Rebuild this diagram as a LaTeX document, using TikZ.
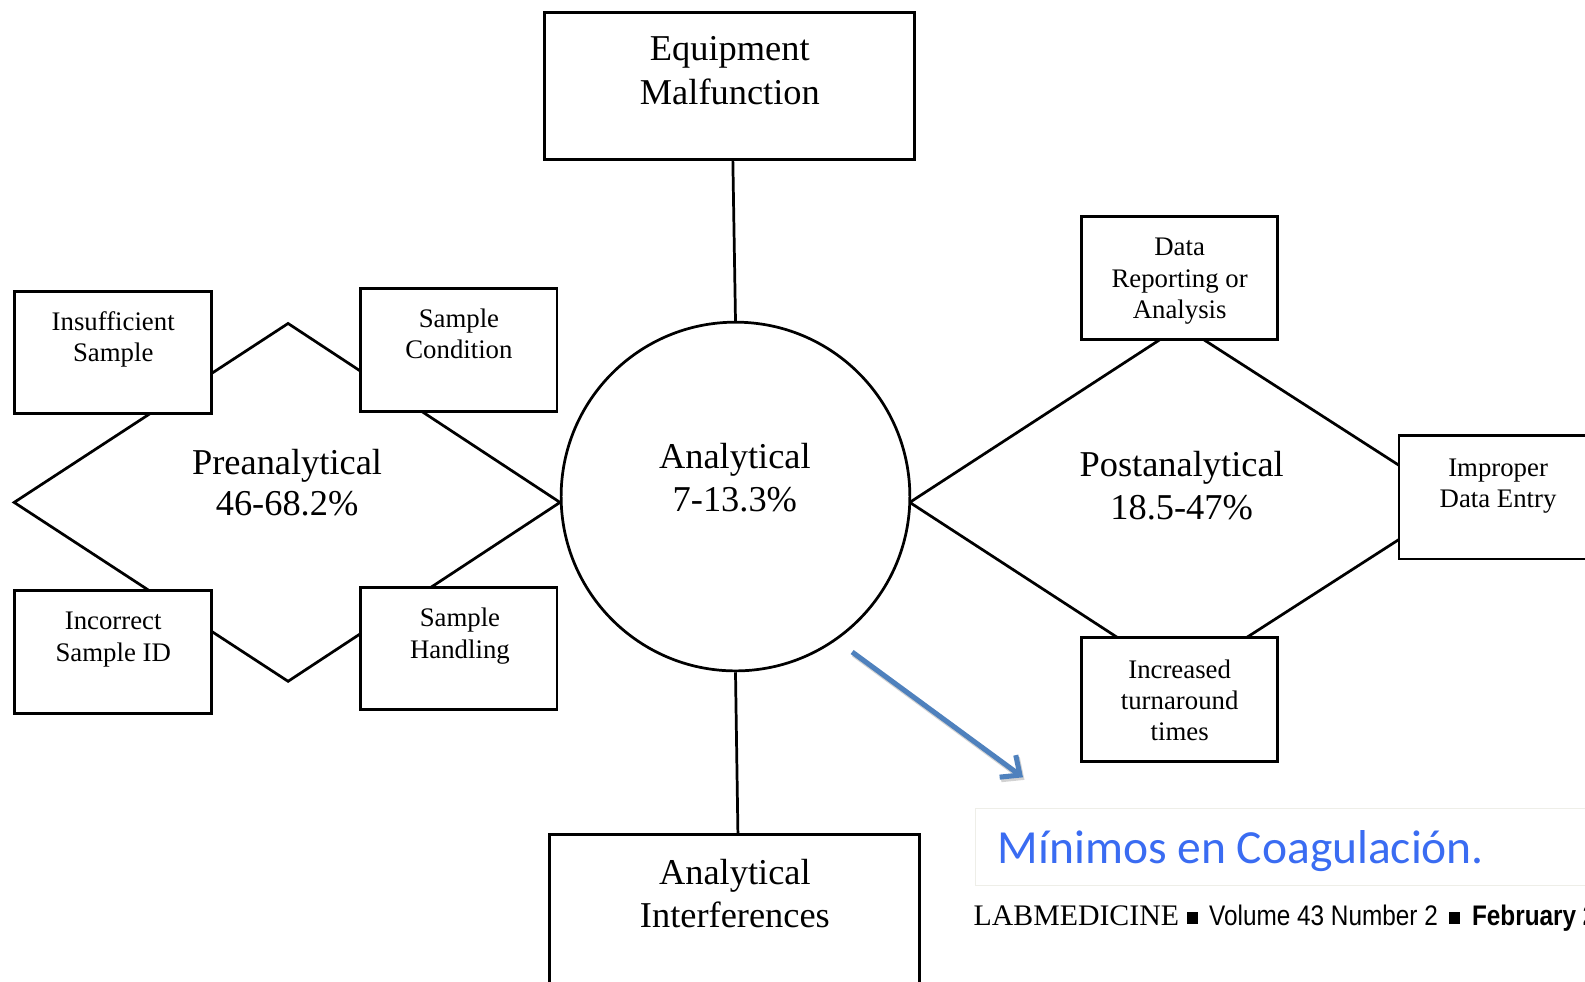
\documentclass[tikz,border=0pt]{standalone}
\usepackage{fontspec}
\setmainfont{Liberation Serif}
\newfontfamily\calib{Carlito}
\newfontfamily\condsans[FakeStretch=0.86]{Liberation Sans}
\usetikzlibrary{arrows.meta}
\definecolor{arrowblue}{RGB}{79,129,189}
\definecolor{titleblue}{RGB}{58,108,242}
\definecolor{paleframe}{RGB}{238,238,232}
\newcommand{\bigf}{\fontsize{36}{40}\selectfont}
\newcommand{\smf}{\fontsize{26.5}{31}\selectfont}
\begin{document}
\begin{tikzpicture}[x=1pt,y=-1pt,
  box/.style={draw, line width=2.9pt, fill=white, inner sep=0pt},
  lnk/.style={line width=2.7pt, line join=miter},
  bigtxt/.style={font=\bigf, anchor=base, inner sep=0pt},
  smtxt/.style={font=\smf, anchor=base, inner sep=0pt},
  foot/.style={anchor=base west, inner sep=0pt}]
\useasboundingbox (0,0) rectangle (1568,971);
\fill[white] (0,0) rectangle (1568,971);
\clip (0,0) rectangle (1568,971);

% diamonds
\coordinate (pL) at (14,497);
\coordinate (pT) at (285,320);
\coordinate (pR) at (554,497);
\coordinate (pB) at (285,674);
\draw[lnk] (pL) -- (pT) -- (pR) -- (pB) -- cycle;
\coordinate (qL) at (900,497);
\coordinate (qT) at (1169,322);
\coordinate (qR) at (1441,497);
\coordinate (qB) at (1169,672);
\draw[lnk] (qL) -- (qT) -- (qR) -- (qB) -- cycle;

% central circle
\node[circle, draw, line width=2.7pt, fill=white, minimum size=345pt, inner sep=0pt] (an) at (727.6,491.2) {};
\node[bigtxt] (anA) at (727,463.7) {Analytical};
\node[bigtxt] (anB) at (727,506) {7-13.3\%};

% top and bottom boxes
\node[box, minimum width=366, minimum height=146] (eq) at (722,85) {};
\node[bigtxt] (eqA) at (722,60) {Equipment};
\node[bigtxt] (eqB) at (722,103) {Malfunction};
\node[box, minimum width=366, minimum height=164] (ai) at (727,908) {};
\node[bigtxt] (aiA) at (727,875) {Analytical};
\node[bigtxt] (aiB) at (727,918) {Interferences};
\draw[lnk] ([xshift=3pt]eq.south) -- (an.north);
\draw[lnk] (an.south) -- ([xshift=3pt]ai.north);

% preanalytical
\node[bigtxt] (preA) at (284,469.6) {Preanalytical};
\node[bigtxt] (preB) at (284,509.8) {46-68.2\%};
\node[box, minimum width=195, minimum height=121] (ins) at (111.5,348.5) {};
\node[smtxt] (insA) at (112,327) {Insufficient};
\node[smtxt] (insB) at (112,358) {Sample};
\node[box, minimum width=194, minimum height=122] (cond) at (454,346) {};
\node[smtxt] (condA) at (454,324) {Sample};
\node[smtxt] (condB) at (454,355) {Condition};
\node[box, minimum width=195, minimum height=122] (incor) at (111.5,645) {};
\node[smtxt] (incorA) at (112,623) {Incorrect};
\node[smtxt] (incorB) at (112,654) {Sample ID};
\node[box, minimum width=194, minimum height=121] (hand) at (454,641.5) {};
\node[smtxt] (handA) at (455,620) {Sample};
\node[smtxt] (handB) at (455,651) {Handling};

% postanalytical
\node[bigtxt] (postA) at (1169,471.6) {Postanalytical};
\node[bigtxt] (postB) at (1169,513.8) {18.5-47\%};
\node[box, minimum width=194, minimum height=122] (drep) at (1167,275) {};
\node[smtxt] (drepA) at (1167,253) {Data};
\node[smtxt] (drepB) at (1167,284) {Reporting or};
\node[smtxt] (drepC) at (1167,315) {Analysis};
\node[box, minimum width=206, minimum height=122] (impr) at (1487,492) {};
\node[smtxt] (imprA) at (1482,471) {Improper};
\node[smtxt] (imprB) at (1482,502) {Data Entry};
\node[box, minimum width=194, minimum height=122] (turn) at (1167,692) {};
\node[smtxt] (turnA) at (1167,671) {Increased};
\node[smtxt] (turnB) at (1167,702) {turnaround};
\node[smtxt] (turnC) at (1167,733) {times};

% blue arrow
\coordinate (arS) at (843,645);
\coordinate (arE) at (1012,769);
\draw[black!35, opacity=0.5, line width=5pt, -{Straight Barb[length=15pt, width=27pt, line width=5pt]}]
  ([shift={(1.5,2.5)}]arS) -- ([shift={(1.5,2.5)}]arE);
\draw[arrowblue, line width=5pt, -{Straight Barb[length=15pt, width=27pt, line width=5pt]}] (arS) -- (arE);

% title box
\node[draw=paleframe, line width=1.5pt, minimum width=640, minimum height=76, inner sep=0pt] (tbox) at (1285,838) {};
\node[font=\calib\fontsize{47}{50}\selectfont, text=titleblue, foot] (title) at (987,854) {Mínimos en Coagulación.};

% footer
\node[font=\fontsize{29.5}{32}\selectfont, foot] (lab) at (963,916) {LABMEDICINE};
\node[fill=black, minimum width=11, minimum height=12, inner sep=0pt] (sq1) at (1179.5,908) {};
\node[font=\condsans\fontsize{28}{30}\selectfont, foot] (vol) at (1196,916) {Volume 43 Number 2};
\node[fill=black, minimum width=11, minimum height=12, inner sep=0pt] (sq2) at (1439,908) {};
\node[font=\condsans\bfseries\fontsize{28}{30}\selectfont, foot] (feb) at (1456,916) {February 2};
\end{tikzpicture}
\end{document}
